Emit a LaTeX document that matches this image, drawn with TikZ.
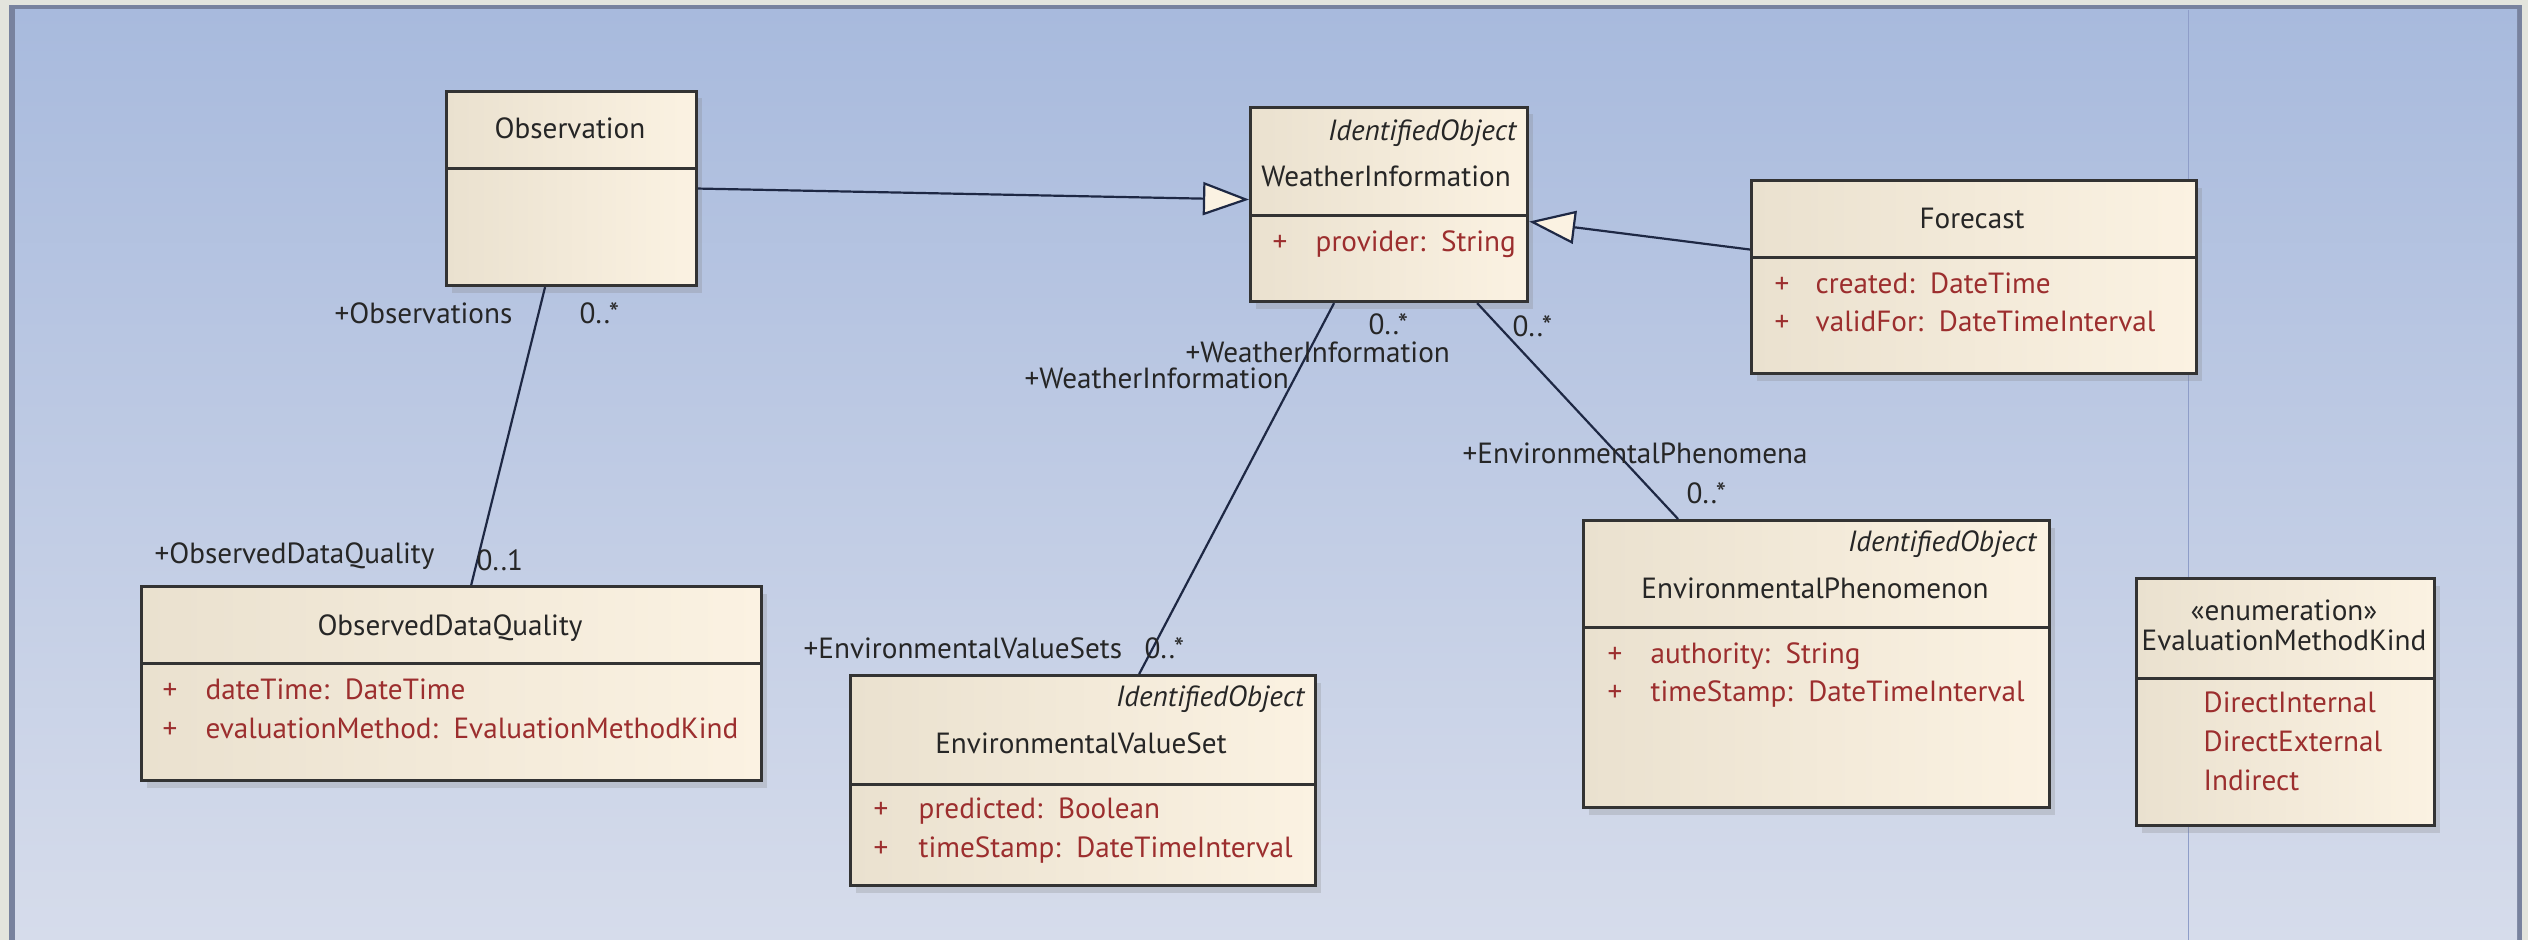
\documentclass[tikz,border=0pt]{standalone}
\usepackage{fontspec}
\setmainfont{PT Sans}
\usetikzlibrary{arrows.meta,shadows}
\definecolor{pageout}{HTML}{E3E4DD}
\definecolor{frame}{HTML}{78829E}
\definecolor{paneltop}{HTML}{A8BADD}
\definecolor{panelbot}{HTML}{D6DCEB}
\definecolor{creamL}{HTML}{EAE1CF}
\definecolor{creamR}{HTML}{FBF2E2}
\definecolor{edge}{HTML}{333333}
\definecolor{attr}{HTML}{9C2E2E}
\definecolor{wire}{HTML}{1E2844}
\definecolor{ink}{HTML}{262626}
\definecolor{pagebreak}{HTML}{8E9DC8}
\newcommand{\umlfont}{\fontsize{8.3}{10}\selectfont}
\begin{document}
\begin{tikzpicture}[x=0.01cm,y=-0.01cm,
  font=\umlfont,
  cls/.style={draw=edge, line width=0.3mm, left color=creamL, right color=creamR,
    anchor=north west, inner sep=0pt,
    drop shadow={shadow xshift=0.5mm, shadow yshift=-0.7mm, opacity=0.25}},
  sep/.style={draw=edge, line width=0.3mm},
  title/.style={text=ink, inner sep=0pt, anchor=mid},
  stereo/.style={text=ink, inner sep=0pt, anchor=mid east, font=\umlfont\itshape},
  lbl/.style={text=ink, inner sep=0pt, anchor=mid west},
  vis/.style={text=attr, inner sep=0pt, anchor=mid west},
  attrs/.style={text=attr, inner sep=0pt, anchor=mid west},
  assoc/.style={draw=wire, line width=0.22mm},
  gen/.style={draw=wire, line width=0.22mm,
    -{Triangle[length=4.6mm, width=3.3mm, fill=creamR]}}
]
\useasboundingbox (0,0) rectangle (2528,940);

% page surround and diagram panel
\fill[pageout] (0,0) rectangle (2528,940);
\fill[frame] (9,5) rectangle (2522,940);
\shade[top color=paneltop, bottom color=panelbot] (15,10) rectangle (2517,940);
\draw[pagebreak, line width=0.1mm] (2188,10) -- (2188,940);

% ---------- classes ----------
\node[cls, minimum width=25.0mm, minimum height=19.4mm] (obs) at (445,90) {};
\draw[sep] ([yshift=-7.8mm]obs.north west) -- ([yshift=-7.8mm]obs.north east);
\node[title] (obsT) at (570,130) {Observation};

\node[cls, minimum width=27.7mm, minimum height=19.4mm] (wi) at (1249,106) {};
\draw[sep] ([yshift=-10.9mm]wi.north west) -- ([yshift=-10.9mm]wi.north east);
\node[stereo] (wiS) at (1517,132) {IdentifiedObject};
\node[title] (wiT) at (1386,178) {WeatherInformation};
\node[vis] (wiV1) at (1272,243) {+};
\node[attrs] (wiA1) at (1315,243) {provider:\ \ String};

\node[cls, minimum width=44.5mm, minimum height=19.3mm] (fc) at (1750,179) {};
\draw[sep] ([yshift=-7.8mm]fc.north west) -- ([yshift=-7.8mm]fc.north east);
\node[title] (fcT) at (1972,220) {Forecast};
\node[vis] (fcV1) at (1774,285) {+};
\node[attrs] (fcA1) at (1815,285) {created:\ \ DateTime};
\node[vis] (fcV2) at (1774,323) {+};
\node[attrs] (fcA2) at (1815,323) {validFor:\ \ DateTimeInterval};

\node[cls, minimum width=62.0mm, minimum height=19.4mm] (odq) at (140,585) {};
\draw[sep] ([yshift=-7.8mm]odq.north west) -- ([yshift=-7.8mm]odq.north east);
\node[title] (odqT) at (450,627) {ObservedDataQuality};
\node[vis] (odqV1) at (162,691) {+};
\node[attrs] (odqA1) at (205,691) {dateTime:\ \ DateTime};
\node[vis] (odqV2) at (162,730) {+};
\node[attrs] (odqA2) at (205,730) {evaluationMethod:\ \ EvaluationMethodKind};

\node[cls, minimum width=46.5mm, minimum height=21.0mm] (evs) at (849,674) {};
\draw[sep] ([yshift=-11.0mm]evs.north west) -- ([yshift=-11.0mm]evs.north east);
\node[stereo] (evsS) at (1305,698) {IdentifiedObject};
\node[title] (evsT) at (1081,745) {EnvironmentalValueSet};
\node[vis] (evsV1) at (873,810) {+};
\node[attrs] (evsA1) at (918,810) {predicted:\ \ Boolean};
\node[vis] (evsV2) at (873,849) {+};
\node[attrs] (evsA2) at (918,849) {timeStamp:\ \ DateTimeInterval};

\node[cls, minimum width=46.6mm, minimum height=28.7mm] (ep) at (1582,519) {};
\draw[sep] ([yshift=-10.8mm]ep.north west) -- ([yshift=-10.8mm]ep.north east);
\node[stereo] (epS) at (2037,543) {IdentifiedObject};
\node[title] (epT) at (1815,590) {EnvironmentalPhenomenon};
\node[vis] (epV1) at (1607,655) {+};
\node[attrs] (epA1) at (1650,655) {authority:\ \ String};
\node[vis] (epV2) at (1607,693) {+};
\node[attrs] (epA2) at (1650,693) {timeStamp:\ \ DateTimeInterval};

\node[cls, minimum width=29.8mm, minimum height=24.7mm] (emk) at (2135,577) {};
\draw[sep] ([yshift=-10.1mm]emk.north west) -- ([yshift=-10.1mm]emk.north east);
\node[title] (emkS) at (2284,612) {«enumeration»};
\node[title] (emkT) at (2284,642) {EvaluationMethodKind};
\node[attrs] (emkL1) at (2203,704) {DirectInternal};
\node[attrs] (emkL2) at (2203,743) {DirectExternal};
\node[attrs] (emkL3) at (2203,782) {Indirect};

% ---------- generalizations ----------
\draw[gen] (obs.east) -- ([yshift=0.5mm]wi.west);
\draw[gen] ([yshift=2.75mm]fc.west) -- ([yshift=-1.7mm]wi.east);

% ---------- associations ----------
\draw[assoc] ([xshift=10mm]obs.south west) -- ([xshift=33.1mm]odq.north west);
\draw[assoc] ([xshift=8.5mm]wi.south west) -- ([xshift=29mm]evs.north west);
\draw[assoc] ([xshift=22.8mm]wi.south west) -- ([xshift=9.6mm]ep.north west);

% ---------- association end labels ----------
\node[lbl] (rObs) at (334,315) {+Observations};
\node[lbl] (mObs) at (579,315) {0..*};
\node[lbl] (rOdq) at (154,555) {+ObservedDataQuality};
\node[lbl] (mOdq) at (476,562) {0..1};
\node[lbl] (mWi1) at (1368,326) {0..*};
\node[lbl] (rWi1) at (1185,354) {+WeatherInformation};
\node[lbl] (rWi2) at (1024,380) {+WeatherInformation};
\node[lbl] (rEvs) at (803,650) {+EnvironmentalValueSets};
\node[lbl] (mEvs) at (1144,650) {0..*};
\node[lbl] (mWi2) at (1512,328) {0..*};
\node[lbl] (rEp) at (1462,455) {+EnvironmentalPhenomena};
\node[lbl] (mEp) at (1686,495) {0..*};
\end{tikzpicture}
\end{document}
